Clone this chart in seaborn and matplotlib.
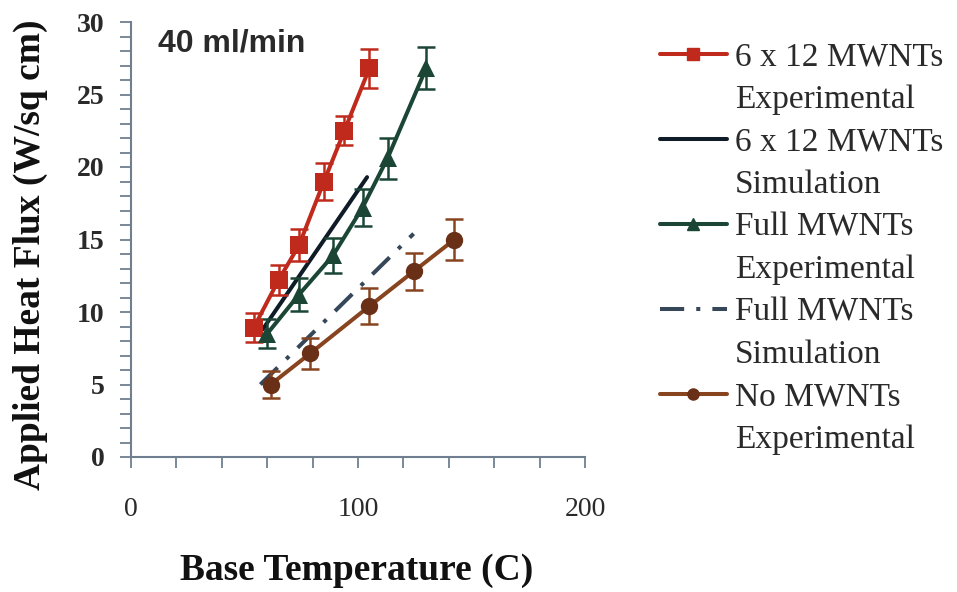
import matplotlib
matplotlib.use("Agg")
import matplotlib.pyplot as plt
from matplotlib.lines import Line2D
import seaborn as sns
import pandas as pd
import numpy as np

# ---- data ----
x_612_exp = [54, 65, 74, 85, 94, 105]
y_612_exp = [8.9, 12.2, 14.6, 19.0, 22.5, 26.8]
e_612_exp = [1.0, 1.05, 1.1, 1.3, 1.0, 1.35]

x_full_exp = [60, 74, 89, 102, 113, 130]
y_full_exp = [8.5, 11.2, 13.9, 17.2, 20.6, 26.8]
e_full_exp = [1.0, 1.15, 1.2, 1.25, 1.4, 1.45]

x_no_exp = [61.5, 79, 105, 124.5, 142.5]
y_no_exp = [5.0, 7.15, 10.4, 12.8, 15.0]
e_no_exp = [0.9, 1.05, 1.25, 1.3, 1.4]

x_612_sim = [58, 104]
y_612_sim = [8.8, 19.3]

x_full_sim = [57, 124.5]
y_full_sim = [5.0, 15.4]

labels = ["6 x 12 MWNTs\nExperimental", "6 x 12 MWNTs\nSimulation",
          "Full MWNTs\nExperimental", "Full MWNTs\nSimulation",
          "No MWNTs\nExperimental"]
x_ticks = [0, 100, 200]
y_ticks = [0, 5, 10, 15, 20, 25, 30]
annotation = "40 ml/min"
x_label = "Base Temperature (C)"
y_label = "Applied Heat Flux (W/sq cm)"

# ---- styles ----
c_red = "#bf2a1c"
c_green = "#1b4636"
c_sim = "#0f1b27"
c_dash = "#36475a"
c_brown = "#87441f"
c_brown_mk = "#6a2f17"
spine_c = "#6f7f90"
LW = 2.9

sns.set_style("white")
plt.rcParams["font.family"] = ["Liberation Serif", "DejaVu Serif"]

fig = plt.figure(figsize=(9.57, 5.92), dpi=100)
ax = fig.add_axes([131 / 957, 1 - 457 / 592, (585 - 131) / 957, (457 - 22) / 592])

exp_df = pd.concat([
    pd.DataFrame({"x": x_612_exp, "y": y_612_exp, "s": labels[0]}),
    pd.DataFrame({"x": x_full_exp, "y": y_full_exp, "s": labels[2]}),
    pd.DataFrame({"x": x_no_exp, "y": y_no_exp, "s": labels[4]}),
])
sim_df = pd.concat([
    pd.DataFrame({"x": x_612_sim, "y": y_612_sim, "s": labels[1]}),
    pd.DataFrame({"x": x_full_sim, "y": y_full_sim, "s": labels[3]}),
])

# simulations
sns.lineplot(data=sim_df, x="x", y="y", hue="s", style="s",
             palette={labels[1]: c_sim, labels[3]: c_dash},
             dashes={labels[1]: "", labels[3]: (6, 3, 1, 3)},
             lw=LW, ax=ax, legend=False, sort=False, estimator=None)

# experimental error bars
for xs, ys, es, c in [(x_612_exp, y_612_exp, e_612_exp, c_red),
                      (x_full_exp, y_full_exp, e_full_exp, c_green),
                      (x_no_exp, y_no_exp, e_no_exp, c_brown)]:
    ax.errorbar(xs, ys, yerr=es, fmt="none", ecolor=c, elinewidth=1.8,
                capsize=6.5, capthick=1.8, zorder=3)

# experimental lines + markers
sns.lineplot(data=exp_df, x="x", y="y", hue="s", style="s",
             palette={labels[0]: c_red, labels[2]: c_green, labels[4]: c_brown},
             markers={labels[0]: "s", labels[2]: "^", labels[4]: "o"},
             dashes=False, lw=LW, markersize=12.5, markeredgewidth=0,
             ax=ax, legend=False, sort=False, estimator=None, zorder=4)
for ln in ax.lines:
    if ln.get_marker() == "o":
        ln.set_markerfacecolor(c_brown_mk)

ax.set_xlim(0, 200)
ax.set_ylim(0, 30)
ax.set_xticks(x_ticks)
ax.set_xticks(np.arange(0, 201, 20), minor=True)
ax.set_yticks(y_ticks)
ax.set_yticks(np.arange(0, 31, 1), minor=True)
ax.tick_params(axis="both", which="both", direction="out", length=8,
               width=1.3, color=spine_c, bottom=True, left=True)
ax.tick_params(axis="x", which="major", pad=21, labelsize=20, labelcolor="#2a2a2a")
ax.tick_params(axis="y", which="major", pad=11, labelsize=20, labelcolor="#2a2a2a")
for lab in ax.get_yticklabels():
    lab.set_fontweight("bold")

for s in ["top", "right"]:
    ax.spines[s].set_visible(False)
for s in ["left", "bottom"]:
    ax.spines[s].set_color(spine_c)
    ax.spines[s].set_linewidth(1.5)
ax.set_xlabel("")
ax.set_ylabel("")

fig.text(357 / 957, 1 - 570 / 592, x_label, ha="center", va="center",
         fontsize=27, fontweight="bold", color="#111111")
fig.text(30 / 957, 1 - 255 / 592, y_label, ha="center", va="center",
         rotation=90, fontsize=27, fontweight="bold", color="#111111")

fig.text(158 / 957, 1 - 43 / 592, annotation, ha="left", va="center",
         fontsize=23, fontweight="bold", color="#2a2a2a",
         family=["Liberation Sans", "DejaVu Sans"])

# legend: first line of each label with handle, second line with blank handle
handles = [
    Line2D([], [], color=c_red, lw=LW, marker="s", markersize=9),
    Line2D([], [], color=c_sim, lw=LW),
    Line2D([], [], color=c_green, lw=LW, marker="^", markersize=9),
    Line2D([], [], color=c_dash, lw=LW, linestyle=(0, (6, 3, 1, 3))),
    Line2D([], [], color=c_brown, lw=LW, marker="o", markersize=9,
           markerfacecolor=c_brown_mk, markeredgewidth=0),
]
blank = Line2D([], [], color="none", lw=0)
leg_h, leg_l = [], []
for h, l in zip(handles, labels):
    a, b = l.split("\n")
    leg_h += [h, blank]
    leg_l += [a, b]
leg = fig.legend(leg_h, leg_l, loc="upper left",
                 bbox_to_anchor=(660 / 957, 1 - 42 / 592),
                 frameon=False, fontsize=24, handlelength=2.0,
                 handletextpad=0.25, labelspacing=0.36, borderpad=0,
                 borderaxespad=0)
for t in leg.get_texts():
    t.set_color("#2a2a2a")

fig.savefig("out.png", dpi=100)
